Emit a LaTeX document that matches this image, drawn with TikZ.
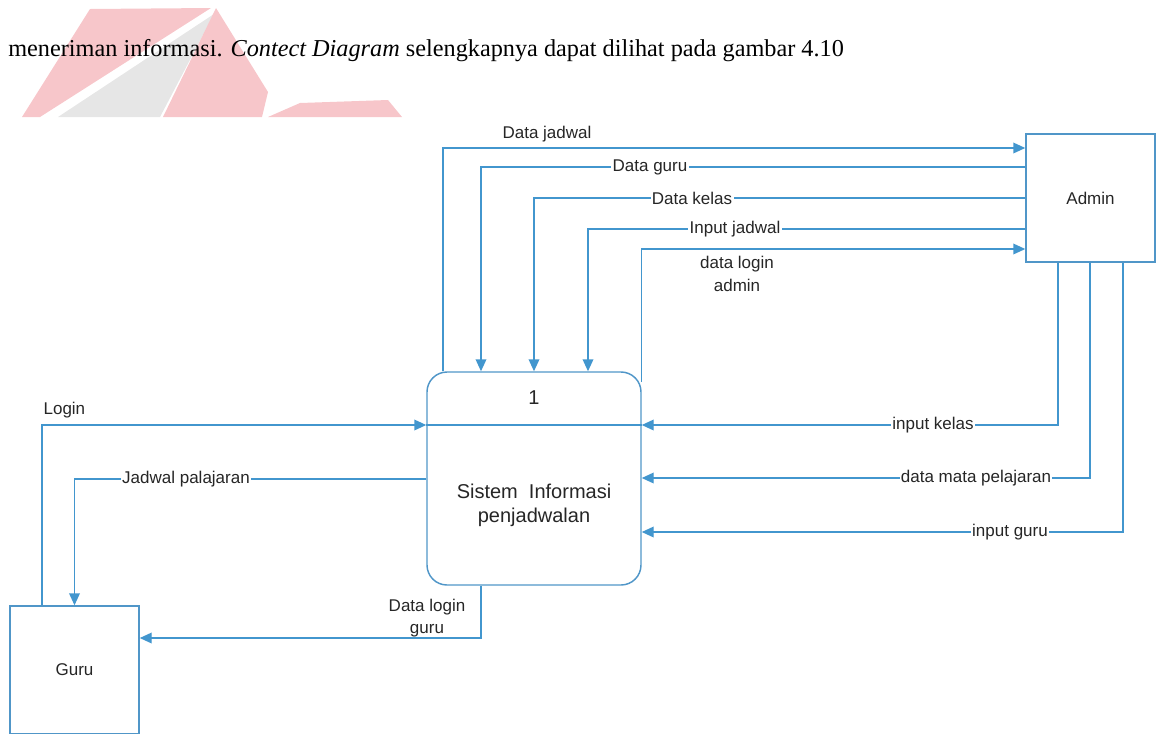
\documentclass[tikz,border=0pt]{standalone}
\usepackage{fontspec}
\setmainfont{Liberation Serif}
\newfontfamily\arialf{Liberation Sans}
\usetikzlibrary{arrows.meta,calc}
\definecolor{flow}{RGB}{66,150,206}
\definecolor{boxc}{RGB}{80,150,200}
\definecolor{wpink}{RGB}{247,198,202}
\definecolor{wgrey}{RGB}{230,230,230}
\begin{document}
\begin{tikzpicture}[x=0.75pt,y=-0.75pt,
  line/.style={draw=flow, line width=1.1pt},
  arr/.style={line, -{Triangle[length=9pt,width=8pt]}},
  lbl/.style={font=\arialf\fontsize{12.75}{17}\selectfont, text=black!85, inner sep=1pt},
  lblw/.style={lbl, fill=white},
  entity/.style={draw=boxc, line width=1.1pt, minimum width=96.75pt, minimum height=96pt, inner sep=0pt,
     font=\arialf\fontsize{12.75}{15}\selectfont, text=black!85},
  process/.style={draw=boxc, line width=1.1pt, rounded corners=15pt, minimum width=160.5pt, minimum height=159.75pt, inner sep=0pt}
]
\useasboundingbox (0,0) rectangle (1156,733);
% watermark
\fill[wpink] (90,9) -- (211,8) -- (40,117) -- (22,117) -- cycle;
\fill[wgrey] (214,14) -- (58,117) -- (160,117) -- cycle;
\fill[wpink] (216,8) -- (268,92) -- (262,117) -- (163,117) -- cycle;
\fill[wpink] (268,117) -- (300,103) -- (388,100) -- (402,117) -- cycle;
% paragraph line
\node[anchor=base west, inner sep=0pt, font=\fontsize{18.2}{22}\selectfont] (para) at (8,56)
  {meneriman informasi. \textit{Contect Diagram} selengkapnya dapat dilihat pada gambar 4.10};

% nodes
\node[entity] (admin) at (1090.5,198) {Admin};
\node[entity] (guru) at (74.5,670) {Guru};
\node[process] (proc) at (534,478.5) {};
\node[font=\arialf\fontsize{15}{18}\selectfont, text=black!85] (num) at (534,398) {1};
\node[font=\arialf\fontsize{15}{18}\selectfont, text=black!85, align=center] (ptext) at (534,505)
  {Sistem\ \ Informasi\\penjadwalan};

% columns and rows
\coordinate (xLogin) at (42,0);
\coordinate (xDJ) at (443,0);
\coordinate (xDG) at (481,0);
\coordinate (xDK) at (534,0);
\coordinate (xIJ) at (588,0);
\coordinate (xIK) at (1058,0);
\coordinate (xDMP) at (1090,0);
\coordinate (xIG) at (1123,0);
\coordinate (yDiv) at (0,425);
\coordinate (yJP) at (0,479);
\coordinate (yDLG) at (0,638);
\coordinate (yDJ) at (0,148);
\coordinate (yDG) at (0,167);
\coordinate (yDK) at (0,198);
\coordinate (yIJ) at (0,229);
\coordinate (yDLA) at (0,249);
\coordinate (yDLAs) at (0,382);
\coordinate (yDMP) at (0,478);
\coordinate (yIG) at (0,532);

% divider in process
\draw[line] (proc.west |- yDiv) -- (proc.east |- yDiv);

% connectors
\draw[arr] (xLogin |- guru.north) |- (proc.west |- yDiv);
\draw[arr] (proc.west |- yJP) -| (guru.north);
\draw[arr] (xDG |- proc.south) |- (guru.east |- yDLG);
\draw[arr] (xDJ |- proc.north) |- (admin.west |- yDJ);
\draw[arr] (admin.west |- yDG) -| (xDG |- proc.north);
\draw[arr] (admin.west |- yDK) -| (xDK |- proc.north);
\draw[arr] (admin.west |- yIJ) -| (xIJ |- proc.north);
\draw[arr] (proc.east |- yDLAs) |- (admin.west |- yDLA);
\draw[arr] (xIK |- admin.south) |- (proc.east |- yDiv);
\draw[arr] (xDMP |- admin.south) |- (proc.east |- yDMP);
\draw[arr] (xIG |- admin.south) |- (proc.east |- yIG);

% labels
\node[lbl, anchor=west] (lLogin) at (42,410) {Login};
\node[lblw] (lJP) at (186,479) {Jadwal palajaran};
\node[lbl, align=center] (lDLG) at (427,618) {Data login\\guru};
\node[lbl] (lDJ) at (547,134) {Data jadwal};
\node[lblw] (lDG) at (650,167) {Data guru};
\node[lblw] (lDK) at (692,198) {Data kelas};
\node[lblw] (lIJ) at (735,229) {Input jadwal};
\node[lbl, align=center] (lDLA) at (737,274) {data login\\admin};
\node[lblw] (lIK) at (933,425) {input kelas};
\node[lblw, inner xsep=1pt] (lDMP) at (976,478) {data mata pelajaran\ };
\node[lblw] (lIG) at (1010,532) {input guru};
\end{tikzpicture}
\end{document}
